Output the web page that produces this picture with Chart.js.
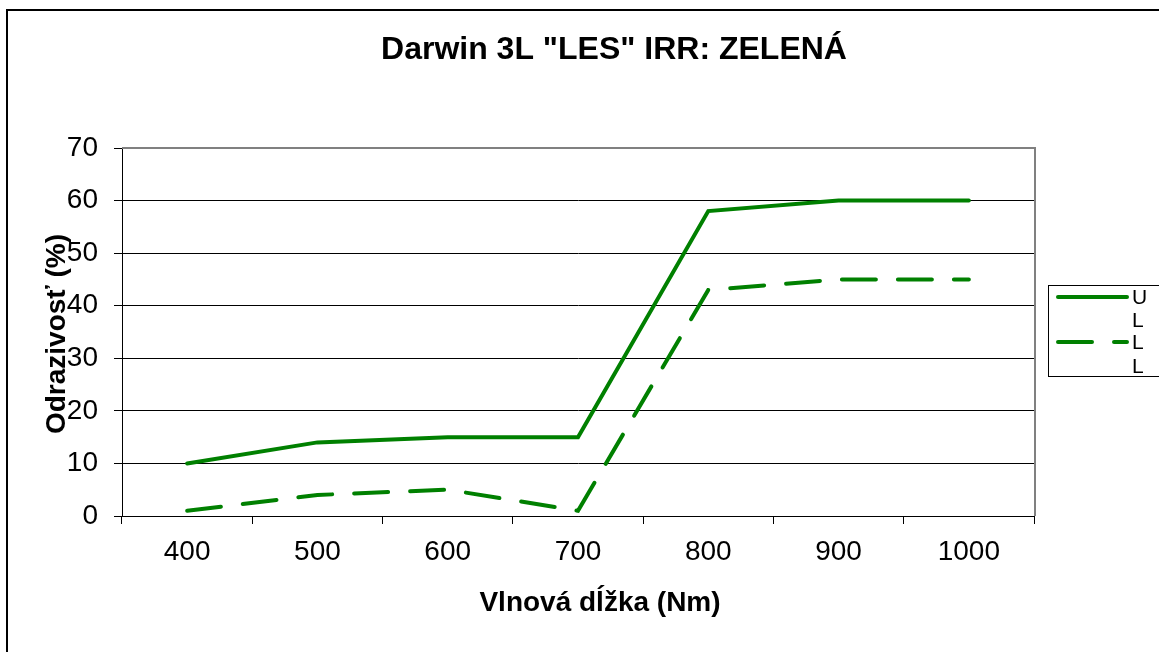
<!DOCTYPE html>
<html>
<head>
<meta charset="utf-8">
<script src="https://cdn.jsdelivr.net/npm/chart.js@4/dist/chart.umd.min.js"></script>
<style>
  html, body { margin: 0; padding: 0; background: #fff; }
  #wrap { position: relative; width: 1159px; height: 652px; }
</style>
</head>
<body>
<div id="wrap"><canvas id="chart" width="1159" height="652"></canvas></div>
<script>
// ===== DATA =====
const wavelengths = ['400', '500', '600', '700', '800', '900', '1000'];
const seriesUL = [10, 14, 15, 15, 58, 60, 60];
const seriesLL = [1, 4, 5, 1, 43, 45, 45];
const seriesNames = ['UL', 'LL'];
const chartTitle = 'Darwin 3L "LES" IRR: ZELENÁ';
const xTitle = 'Vlnová dĺžka (Nm)';
const yTitle = 'Odrazivosť (%)';

const green = '#008000';
const font = 'Liberation Sans, Arial, sans-serif';

// ===== EXTRA DRAWING (frame, titles, legend) =====
const decorPlugin = {
  id: 'decor',
  beforeDraw(chart) {
    const ctx = chart.ctx;
    ctx.save();
    ctx.fillStyle = '#fff';
    ctx.fillRect(0, 0, chart.width, chart.height);
    // outer frame
    ctx.strokeStyle = '#000';
    ctx.lineWidth = 2;
    ctx.beginPath();
    ctx.moveTo(1159, 10);
    ctx.lineTo(7, 10);
    ctx.lineTo(7, 652);
    ctx.stroke();
    ctx.restore();
  },
  afterDatasetsDraw(chart) {
    const ctx = chart.ctx;
    const a = chart.chartArea;
    ctx.save();
    // plot border top / right (gray)
    ctx.strokeStyle = '#808080';
    ctx.lineWidth = 2;
    ctx.beginPath();
    ctx.moveTo(a.left, a.top);
    ctx.lineTo(a.right + 1, a.top);
    ctx.lineTo(a.right + 1, a.bottom);
    ctx.stroke();

    // titles
    ctx.fillStyle = '#000';
    ctx.textAlign = 'center';
    ctx.textBaseline = 'middle';
    ctx.font = 'bold 32px ' + font;
    ctx.fillText(chartTitle, 614, 50);
    ctx.font = 'bold 28px ' + font;
    ctx.fillText(xTitle, 600, 603);
    ctx.translate(57, 334);
    ctx.rotate(-Math.PI / 2);
    ctx.fillText(yTitle, 0, 0);
    ctx.restore();

    // legend
    ctx.save();
    ctx.fillStyle = '#fff';
    ctx.fillRect(1048, 285, 112, 91);
    ctx.strokeStyle = '#000';
    ctx.lineWidth = 1;
    ctx.strokeRect(1048.5, 285.5, 112, 91);
    ctx.strokeStyle = green;
    ctx.lineWidth = 4;
    ctx.lineCap = 'round';
    ctx.beginPath();
    ctx.moveTo(1058, 297);
    ctx.lineTo(1127, 297);
    ctx.stroke();
    ctx.setLineDash([34, 22]);
    ctx.beginPath();
    ctx.moveTo(1058, 342);
    ctx.lineTo(1127, 342);
    ctx.stroke();
    ctx.setLineDash([]);
    ctx.fillStyle = '#000';
    ctx.font = '21px ' + font;
    ctx.textAlign = 'left';
    ctx.textBaseline = 'middle';
    const rows = [298, 321, 343, 367];
    const chars = (seriesNames[0] + seriesNames[1]).split('');
    chars.forEach((c, i) => ctx.fillText(c, 1132, rows[i]));
    ctx.restore();
  }
};

new Chart(document.getElementById('chart'), {
  type: 'line',
  data: {
    labels: wavelengths,
    datasets: [
      {
        label: seriesNames[0],
        data: seriesUL,
        borderColor: green,
        borderWidth: 4,
        pointRadius: 0,
        fill: false,
        tension: 0,
        borderCapStyle: 'round',
        borderJoinStyle: 'miter'
      },
      {
        label: seriesNames[1],
        data: seriesLL,
        borderColor: green,
        borderWidth: 4,
        borderDash: [34, 22],
        pointRadius: 0,
        fill: false,
        tension: 0,
        borderCapStyle: 'round',
        borderJoinStyle: 'miter'
      }
    ]
  },
  options: {
    responsive: false,
    animation: false,
    layout: {
      padding: { top: 148, right: 125, bottom: 0, left: 0 }
    },
    plugins: {
      legend: { display: false },
      title: { display: false },
      tooltip: { enabled: false }
    },
    scales: {
      x: {
        offset: true,
        grid: {
          offset: true,
          drawOnChartArea: false,
          drawTicks: true,
          tickLength: 8,
          color: '#000'
        },
        border: { color: '#000', width: 1 },
        ticks: {
          color: '#000',
          padding: 11,
          font: { family: font, size: 28 },
          maxRotation: 0
        },
        afterFit(scale) { scale.height = 136; }
      },
      y: {
        min: 0,
        max: 70,
        ticks: {
          stepSize: 10,
          color: '#000',
          padding: 16,
          font: { family: font, size: 28 }
        },
        grid: {
          color: '#000',
          lineWidth: 1,
          tickLength: 8
        },
        border: { color: '#000', width: 1 },
        afterFit(scale) { scale.width = 122; }
      }
    }
  },
  plugins: [decorPlugin]
});
</script>
</body>
</html>
